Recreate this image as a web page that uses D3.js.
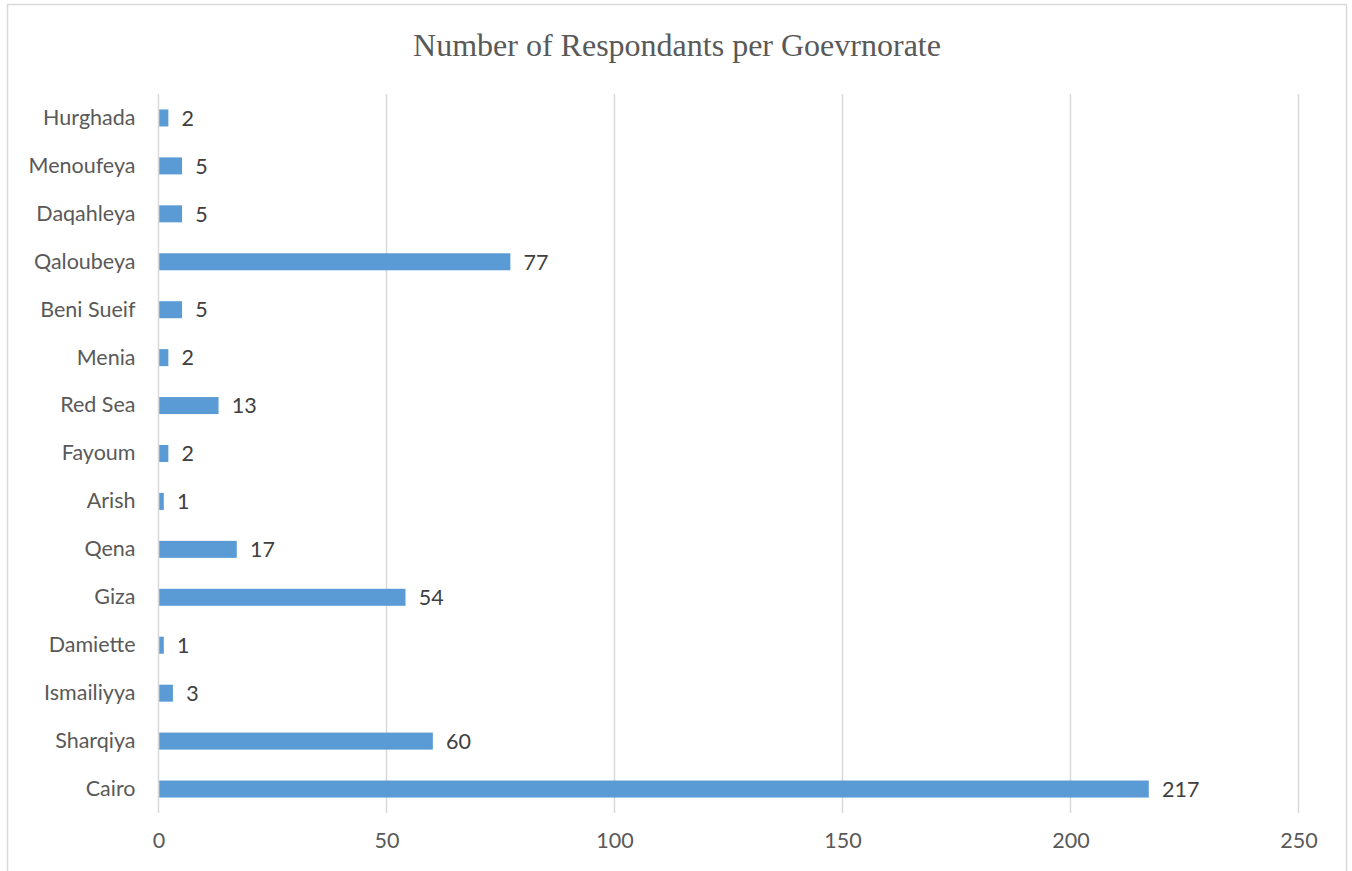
<!DOCTYPE html>
<html><head><meta charset="utf-8">
<script src="https://cdn.jsdelivr.net/npm/d3@7"></script>
<style>body{margin:0;background:#fff;}svg{display:block;}</style>
</head><body>
<script>
const categories = ["Hurghada","Menoufeya","Daqahleya","Qaloubeya","Beni Sueif","Menia","Red Sea","Fayoum","Arish","Qena","Giza","Damiette","Ismailiyya","Sharqiya","Cairo"];
const values = [2,5,5,77,5,2,13,2,1,17,54,1,3,60,217];
const xTicks = [0,50,100,150,200,250];
const title = "Number of Respondants per Goevrnorate";

(function () {
const W = 1352, H = 871;
const svg = d3.select("body").append("svg").attr("width", W).attr("height", H);
svg.append("rect").attr("x", 7.5).attr("y", 4.5).attr("width", 1339).attr("height", 880)
  .attr("fill", "#fff").attr("stroke", "#d9d9d9").attr("stroke-width", 1.5);

const pLeft = 158.5, pRight = 1298.5, pTop = 94, pBottom = 813;
const x = d3.scaleLinear().domain([0, 250]).range([pLeft, pRight]);
const y = d3.scaleBand().domain(categories).range([pTop, pBottom]).paddingInner(0.645).paddingOuter(0.3225);

svg.append("text").attr("x", 677).attr("y", 56).attr("text-anchor", "middle")
  .attr("font-family", "'Liberation Serif', 'Times New Roman', serif").attr("font-size", 32)
  .attr("fill", "#595959").text(title);

// gridlines
svg.append("g").selectAll("line").data(xTicks).join("line")
  .attr("x1", d => x(d)).attr("x2", d => x(d)).attr("y1", pTop).attr("y2", pBottom)
  .attr("stroke", "#d9d9d9").attr("stroke-width", 1.5);

// bars
svg.append("g").selectAll("rect").data(values).join("rect")
  .attr("x", x(0) + 0.75).attr("y", (d, i) => y(categories[i]))
  .attr("width", d => x(d) - x(0)).attr("height", y.bandwidth())
  .attr("fill", "#5b9bd5");

const font = "Lato, 'Open Sans', sans-serif";
// data labels
svg.append("g").selectAll("text").data(values).join("text")
  .attr("x", d => x(d) + 14).attr("y", (d, i) => y(categories[i]) + y.bandwidth() / 2)
  .attr("dy", "0.36em").attr("font-family", font).attr("font-size", 21.5).attr("fill", "#404040")
  .text(d => d);

// category labels
const yAxis = svg.append("g").attr("transform", `translate(${pLeft},0)`)
  .call(d3.axisLeft(y).tickSize(0).tickPadding(23));
yAxis.select(".domain").remove();
yAxis.selectAll("text").attr("font-family", font).attr("font-size", 21.5).attr("fill", "#595959");

// x axis labels
const xAxis = svg.append("g").attr("transform", `translate(0,${pBottom})`)
  .call(d3.axisBottom(x).tickValues(xTicks).tickSize(0).tickPadding(20));
xAxis.select(".domain").remove();
xAxis.selectAll("text").attr("font-family", font).attr("font-size", 21.5).attr("fill", "#595959");
})();
</script>
</body></html>
